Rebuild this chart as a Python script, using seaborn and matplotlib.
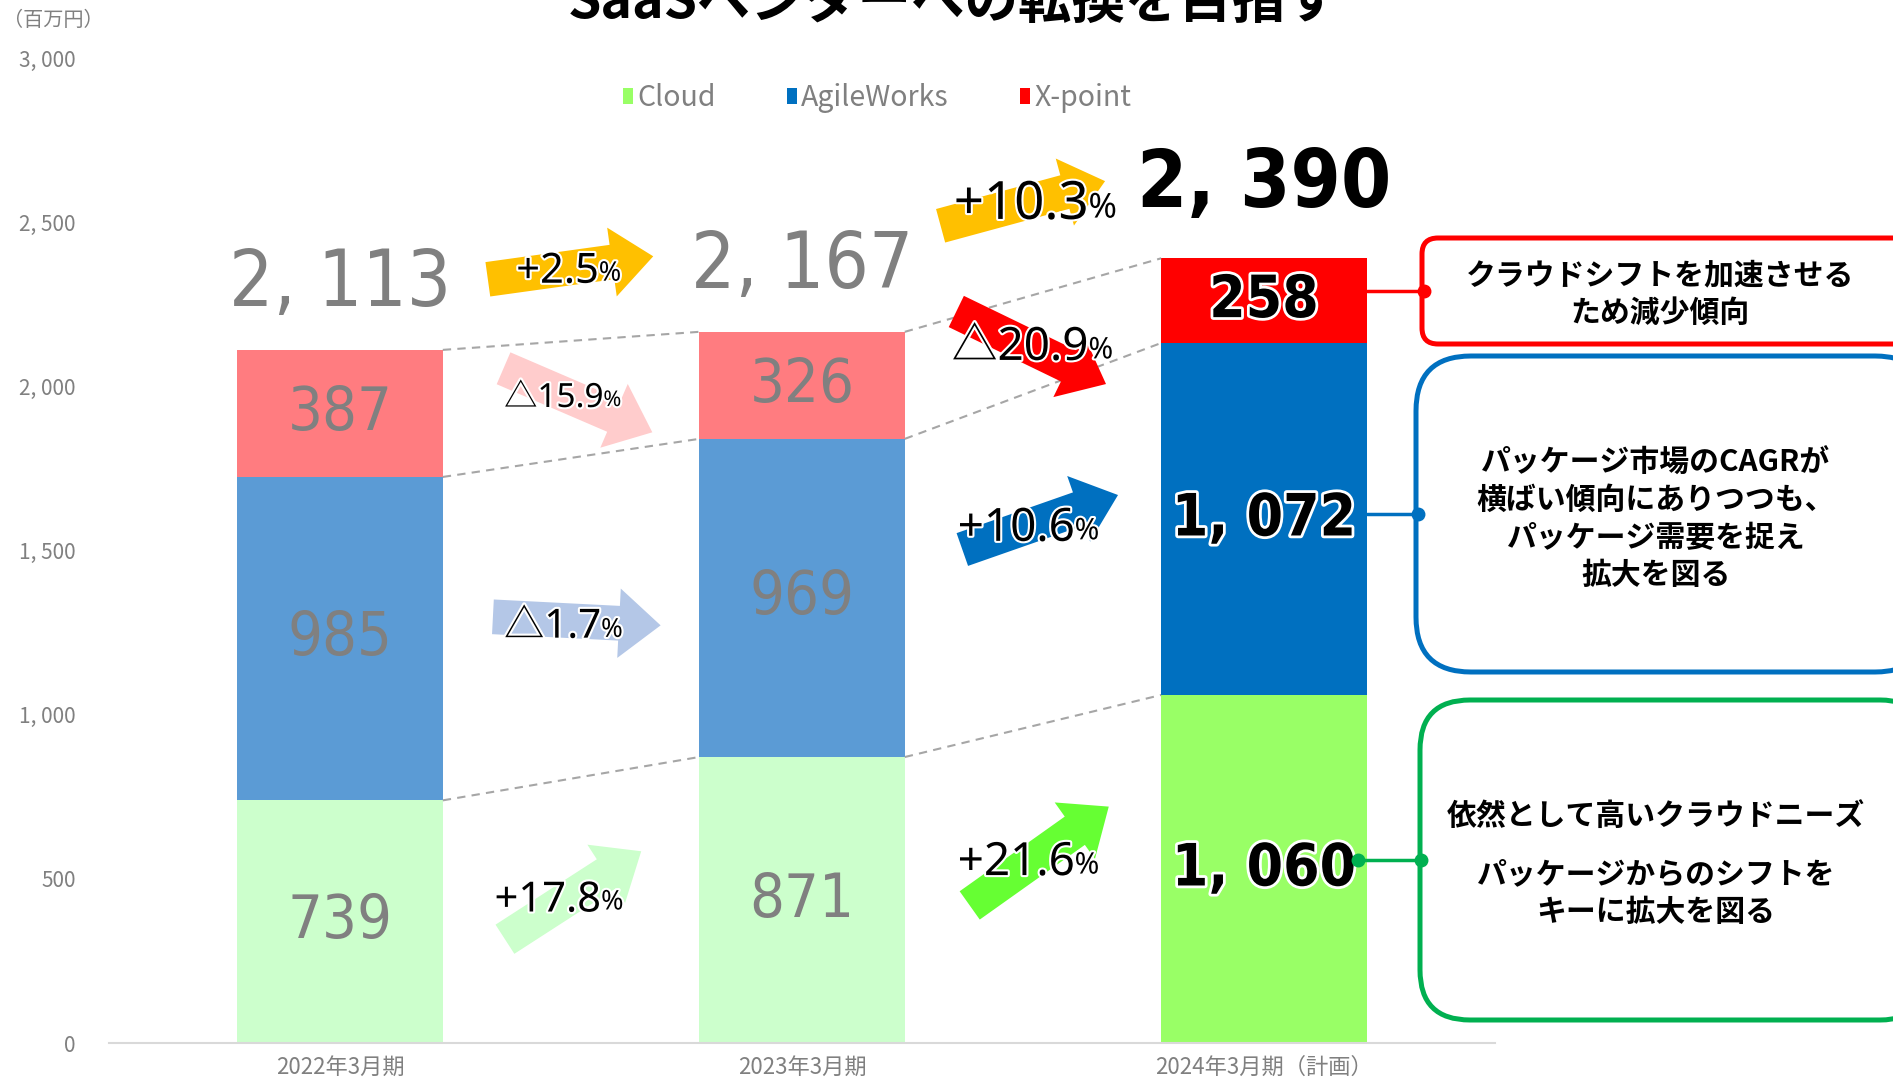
import matplotlib
matplotlib.use("Agg")
import matplotlib.pyplot as plt
import matplotlib.patheffects as pe
import seaborn as sns
from matplotlib import font_manager as fm
from matplotlib.patches import FancyArrowPatch, FancyBboxPatch, Patch
from matplotlib.lines import Line2D
from matplotlib.ticker import FuncFormatter

# ---------------- DATA ----------------
PERIODS = ["2022年3月期", "2023年3月期", "2024年3月期（計画）"]
SERIES = ["Cloud", "AgileWorks", "X-point"]
CLOUD = [739, 871, 1060]
AGILE = [985, 969, 1072]
XPOINT = [387, 326, 258]
TOTALS = [2113, 2167, 2390]
# growth between years (2022->2023, 2023->2024)
GROWTH_TOTAL = ["+2.5", "+10.3"]
GROWTH_XPOINT = ["△15.9", "△20.9"]
GROWTH_AGILE = ["△1.7", "+10.6"]
GROWTH_CLOUD = ["+17.8", "+21.6"]
NOTE_XPOINT = "クラウドシフトを加速させる\nため減少傾向"
NOTE_AGILE = "パッケージ市場のCAGRが\n横ばい傾向にありつつも、\nパッケージ需要を捉え\n拡大を図る"
NOTE_CLOUD_1 = "依然として高いクラウドニーズ"
NOTE_CLOUD_2 = "パッケージからのシフトを\nキーに拡大を図る"
TITLE = "SaaSベンダーへの転換を目指す"

# ---------------- STYLE ----------------
CLOUD_COLORS = ["#CCFFCC", "#CCFFCC", "#99FF66"]
AGILE_COLORS = ["#5B9BD5", "#5B9BD5", "#0070C0"]
XPOINT_COLORS = ["#FF7C80", "#FF7C80", "#FF0000"]
GREY = "#808080"

sns.set_theme(style="white")
plt.rcParams["font.family"] = ["Noto Sans CJK JP", "DejaVu Sans"]


def narrow_font(bold):
    # look for an installed condensed / narrow face, best match first
    rank = {"extra-condensed": 0, "condensed": 1, "semi-condensed": 2, "ultra-condensed": 3}
    best = None
    for f in fm.fontManager.ttflist:
        st = str(f.stretch).lower()
        nm = (f.name + " " + f.fname).lower()
        if "narrow" in nm:
            st = "condensed"
        if st not in rank or f.style != "normal":
            continue
        w = f.weight if isinstance(f.weight, int) else (700 if "bold" in str(f.weight) else 400)
        score = rank[st] * 10 + abs(w - (700 if bold else 400)) / 100
        if best is None or score < best[0]:
            best = (score, f.fname)
    return best[1] if best else None


NARROW_REG = narrow_font(False)
NARROW_BOLD = narrow_font(True)


def numprops(size, bold=False):
    path = NARROW_BOLD if bold else NARROW_REG
    if path:
        return fm.FontProperties(fname=path, size=size)
    return fm.FontProperties(family="DejaVu Sans", size=size * 0.8,
                             weight="bold" if bold else "normal")


PCT_FONT = ["Noto Sans", "Noto Sans CJK JP", "DejaVu Sans"]

W, H = 1893, 1086
fig = plt.figure(figsize=(W / 100, H / 100), dpi=100)
ax = fig.add_axes([109 / W, 1 - 1043 / H, (1495 - 109) / W, (1043 - 58) / H])

# ---------------- BARS (stacked via overlapping cumulative bars) ----------------
lvl1 = CLOUD
lvl2 = [c + a for c, a in zip(CLOUD, AGILE)]
lvl3 = [c + a + x for c, a, x in zip(CLOUD, AGILE, XPOINT)]
BAR_W = 0.445
for vals, cols in [(lvl3, XPOINT_COLORS), (lvl2, AGILE_COLORS), (lvl1, CLOUD_COLORS)]:
    sns.barplot(x=PERIODS, y=vals, hue=PERIODS, order=PERIODS, hue_order=PERIODS,
                palette=cols, saturation=1, width=BAR_W, dodge=False,
                legend=False, linewidth=0, ax=ax)

ax.set_xlim(-0.5, 2.5)
ax.set_ylim(0, 3000)
ax.set_yticks(range(0, 3001, 500))
ax.yaxis.set_major_formatter(FuncFormatter(lambda v, p: f"{int(v):,}".replace(",", ", ")))
ax.set_xticks(range(3))
ax.set_xticklabels(PERIODS)
ax.tick_params(axis="y", length=0, pad=24, labelsize=15, labelcolor=GREY)
ax.tick_params(axis="x", length=0, pad=9, labelsize=16, labelcolor=GREY)
ax.set_xlabel("")
ax.set_ylabel("")
for s in ["top", "right", "left"]:
    ax.spines[s].set_visible(False)
ax.spines["bottom"].set_color("#D9D9D9")
ax.spines["bottom"].set_linewidth(1.5)

# dashed connectors between bars
for i in range(2):
    for lv in (lvl1, lvl2, lvl3):
        ax.plot([i + BAR_W / 2, i + 1 - BAR_W / 2], [lv[i], lv[i + 1]],
                ls=(0, (4, 3)), color="#A6A6A6", lw=1.5, zorder=2)

# segment labels
white = [pe.withStroke(linewidth=4, foreground="white")]
for i in range(3):
    mids = [CLOUD[i] / 2, CLOUD[i] + AGILE[i] / 2, lvl2[i] + XPOINT[i] / 2]
    vals = [CLOUD[i], AGILE[i], XPOINT[i]]
    for m, v in zip(mids, vals):
        txt = f"{v:,}".replace(",", ", ")
        if i < 2:
            ax.text(i, m, txt, ha="center", va="center", color=GREY,
                    fontproperties=numprops(44), zorder=5)
        else:
            ax.text(i, m, txt, ha="center", va="center", color="black",
                    fontproperties=numprops(42, True),
                    path_effects=white, zorder=5)

# totals
TOTAL_Y = [2312, 2367, 2613]
for i, t in enumerate(TOTALS):
    txt = f"{t:,}".replace(",", ", ")
    if i < 2:
        ax.text(i, TOTAL_Y[i], txt, ha="center", va="center", color=GREY,
                fontproperties=numprops(56))
    else:
        ax.text(i, TOTAL_Y[i], txt, ha="center", va="center", color="black",
                fontproperties=numprops(58, True))

# ---------------- GROWTH ARROWS ----------------
ARROWS = [
    # tail, tip, colour, label, label pos (right edge of number), number size
    ((0.32, 2326), (0.678, 2396), "#FFC000", GROWTH_TOTAL[0], (0.56, 2349), 30),
    ((1.30, 2489), (1.656, 2625), "#FFC000", GROWTH_TOTAL[1], (1.62, 2551), 38),
    ((0.354, 2055), (0.676, 1860), "#FFCCCC", GROWTH_XPOINT[0], (0.57, 1963), 24),
    ((1.334, 2228), (1.658, 2007), "#FF0000", GROWTH_XPOINT[1], (1.62, 2117), 33),
    ((0.331, 1298), (0.694, 1272), "#B4C7E7", GROWTH_AGILE[0], (0.565, 1265), 29),
    ((1.347, 1503), (1.684, 1669), "#0070C0", GROWTH_AGILE[1], (1.59, 1566), 33),
    ((0.357, 316), (0.652, 584), "#CCFFCC", GROWTH_CLOUD[0], (0.565, 434), 30),
    ((1.363, 419), (1.664, 720), "#66FF33", GROWTH_CLOUD[1], (1.59, 548), 33),
]
thin_white = [pe.withStroke(linewidth=3, foreground="white")]
for tail, tip, col, lab, pos, fs in ARROWS:
    arr = FancyArrowPatch(tail, tip, arrowstyle="simple,head_length=30,head_width=50,tail_width=25",
                          color=col, lw=0, shrinkA=0, shrinkB=0, mutation_scale=1,
                          zorder=3, clip_on=False)
    ax.add_patch(arr)
    t = ax.text(pos[0], pos[1], lab, ha="right", va="center", fontsize=fs,
                family=PCT_FONT, color="black", path_effects=thin_white, zorder=4)
    ax.annotate("%", xy=(1, 0.12), xycoords=t, ha="left", va="bottom",
                fontsize=fs * 0.65, family=PCT_FONT, color="black",
                path_effects=thin_white, zorder=4)

# ---------------- LEGEND ----------------
handles = [Patch(facecolor=c, edgecolor="none") for c in
           [CLOUD_COLORS[2], AGILE_COLORS[2], XPOINT_COLORS[2]]]
fig.legend(handles, SERIES, loc="center", bbox_to_anchor=(877 / W, 1 - 98 / H),
           ncol=3, frameon=False, fontsize=20.5, labelcolor=GREY,
           handlelength=0.35, handleheight=0.5, handletextpad=0.15, columnspacing=2.5)

# ---------------- TITLE / UNIT ----------------
fig.text(954 / W, 1 - 18 / H, TITLE, ha="center", va="baseline",
         fontsize=38.5, fontweight="bold", color="black")
fig.text(53 / W, 1 - 20 / H, "（百万円）", ha="center", va="center",
         fontsize=14.5, color=GREY)

# ---------------- CALLOUT BOXES (figure pixel coords, y from top) ----------------
def inch(x, y):
    return x / 100, (H - y) / 100


def callout(x0, y0, y1, rad, col, x_line0, y_line, dots):
    bx, by = inch(x0, y1)
    box = FancyBboxPatch((bx, by), (1930 - x0) / 100, (y1 - y0) / 100,
                         boxstyle=f"round,pad=0,rounding_size={rad / 100}",
                         transform=fig.dpi_scale_trans, facecolor="white",
                         edgecolor=col, lw=3.6, zorder=5)
    fig.add_artist(box)
    xa, ya = inch(x_line0, y_line)
    xb, _ = inch(x0 + 2, y_line)
    fig.add_artist(Line2D([xa, xb], [ya, ya], color=col, lw=2.5,
                          transform=fig.dpi_scale_trans, zorder=6))
    for dx in dots:
        fig.add_artist(Line2D([dx / 100], [ya], marker="o", ms=9, color=col,
                              transform=fig.dpi_scale_trans, zorder=7))


callout(1422, 238, 344, 16, "#FF0000", 1367, 291, [1424])
callout(1416, 356, 672, 55, "#0070C0", 1367, 514, [1418])
callout(1420, 700, 1020, 50, "#00B050", 1358, 860, [1358, 1421])

box_txt = dict(ha="center", va="center", fontsize=21.5, fontweight="bold",
               color="black", linespacing=1.3, zorder=8)
fig.text(1660 / W, 1 - 294 / H, NOTE_XPOINT, **box_txt)
fig.text(1656 / W, 1 - 519 / H, NOTE_AGILE, **box_txt)
fig.text(1656 / W, 1 - 816 / H, NOTE_CLOUD_1, **box_txt)
fig.text(1656 / W, 1 - 893 / H, NOTE_CLOUD_2, **box_txt)

fig.savefig("out.png", dpi=100)
plt.close(fig)
